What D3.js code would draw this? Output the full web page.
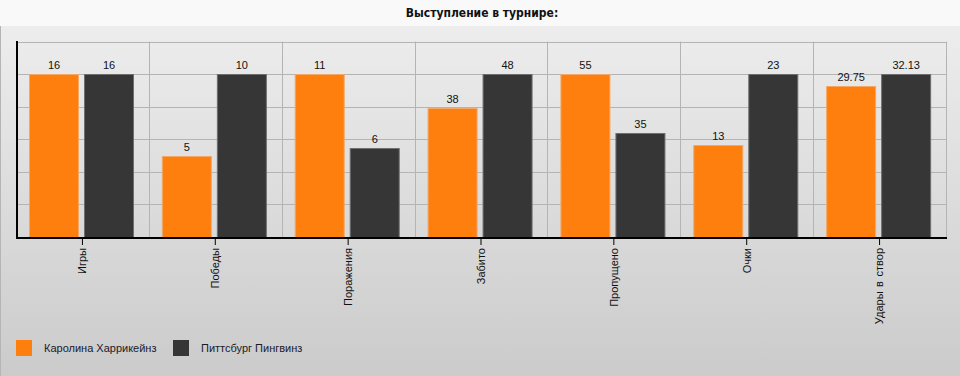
<!DOCTYPE html>
<html>
<head>
<meta charset="utf-8">
<script src="https://cdn.jsdelivr.net/npm/d3@7"></script>
<style>
  body { margin: 0; background: #fff; }
  svg { display: block; font-family: "Liberation Sans", Arial, sans-serif; }
</style>
</head>
<body>
<div id="chart"></div>
<script>
var categories = ["Игры", "Победы", "Поражения", "Забито", "Пропущено", "Очки", "Удары в створ"];
var seriesNames = ["Каролина Харрикейнз", "Питтсбург Пингвинз"];
var carolina = [16, 5, 11, 38, 55, 13, 29.75];
var pittsburgh = [16, 10, 6, 48, 35, 23, 32.13];
var seriesColors = ["#ff7f0e", "#363636"];
var seriesStrokes = ["#f2a869", "#6e6e6e"];
var title = "Выступление в турнире:";

var width = 960, height = 376;
var margin = { top: 42, left: 16, right: 14, bottom: 139 };

var svg = d3.select("#chart").append("svg")
    .attr("width", width)
    .attr("height", height);

// background gradient
var defs = svg.append("defs");
var grad = defs.append("linearGradient")
    .attr("id", "bg").attr("x1", 0).attr("y1", 0).attr("x2", 0).attr("y2", 1);
grad.append("stop").attr("offset", "0%").attr("stop-color", "#ededed");
grad.append("stop").attr("offset", "100%").attr("stop-color", "#cbcbcb");

svg.append("rect")
    .attr("x", 0).attr("y", 26)
    .attr("width", width).attr("height", height - 26)
    .attr("fill", "url(#bg)");
svg.append("rect")
    .attr("x", 0).attr("y", 0)
    .attr("width", width).attr("height", 26)
    .attr("fill", "#f9f9f9");
svg.append("line")
    .attr("x1", 0.5).attr("x2", 0.5).attr("y1", 26).attr("y2", height)
    .attr("stroke", "#b5b5b5");

svg.append("text")
    .attr("x", 482).attr("y", 17)
    .attr("text-anchor", "middle")
    .style("font-family", "'Liberation Sans Narrow', 'DejaVu Sans Condensed', Arial, sans-serif")
    .style("font-weight", "bold")
    .style("font-size", "12px")
    .attr("fill", "#111")
    .text(title);

var plotW = width - margin.left - margin.right;
var baseY = 237;

var x0 = d3.scaleBand().domain(categories).range([margin.left, margin.left + plotW]);
var x1 = d3.scaleBand().domain([0, 1]).range([13, 118]).paddingInner(1 / 11);
var y = d3.scaleLinear().domain([0, 1.2]).range([baseY, 41.6]);

var g = svg.append("g");

// horizontal grid
g.selectAll("line.hgrid")
    .data(y.ticks(6))
    .enter().append("line")
    .attr("class", "hgrid")
    .attr("x1", margin.left).attr("x2", margin.left + plotW)
    .attr("y1", function (d) { return Math.round(y(d)) + 0.5; })
    .attr("y2", function (d) { return Math.round(y(d)) + 0.5; })
    .attr("stroke", "#b4b4b4");

// vertical grid at category boundaries
g.selectAll("line.vgrid")
    .data(categories)
    .enter().append("line")
    .attr("class", "vgrid")
    .attr("x1", function (d) { return Math.round(x0(d) + x0.bandwidth()) + 0.5; })
    .attr("x2", function (d) { return Math.round(x0(d) + x0.bandwidth()) + 0.5; })
    .attr("y1", y(1.2)).attr("y2", baseY)
    .attr("stroke", "#b4b4b4");

// bars, normalized to the larger value of each pair
var rows = categories.map(function (c, i) {
    var vals = [carolina[i], pittsburgh[i]];
    var mx = d3.max(vals);
    return { cat: c, vals: vals.map(function (v, s) { return { s: s, v: v, n: v / mx }; }) };
});

var cat = g.selectAll("g.cat")
    .data(rows)
    .enter().append("g")
    .attr("class", "cat")
    .attr("transform", function (d) { return "translate(" + x0(d.cat) + ",0)"; });

cat.selectAll("rect")
    .data(function (d) { return d.vals; })
    .enter().append("rect")
    .attr("x", function (d) { return x1(d.s) + 0.5; })
    .attr("y", function (d) { return Math.round(y(d.n)) + 0.5; })
    .attr("width", x1.bandwidth() - 1)
    .attr("height", function (d) { return baseY - Math.round(y(d.n)); })
    .attr("fill", function (d) { return seriesColors[d.s]; })
    .attr("stroke", function (d) { return seriesStrokes[d.s]; });

cat.selectAll("text")
    .data(function (d) { return d.vals; })
    .enter().append("text")
    .attr("x", function (d) { return x1(d.s) + x1.bandwidth() / 2; })
    .attr("y", function (d) { return y(d.n) - 5; })
    .attr("text-anchor", "middle")
    .style("font-size", "11px")
    .attr("fill", "#111")
    .text(function (d) { return d.v; });

// axes
g.append("line")
    .attr("x1", margin.left + 1).attr("x2", margin.left + 1)
    .attr("y1", 41).attr("y2", baseY + 2)
    .attr("stroke", "#000").attr("stroke-width", 2);
g.append("line")
    .attr("x1", margin.left).attr("x2", margin.left + plotW + 1)
    .attr("y1", baseY + 1).attr("y2", baseY + 1)
    .attr("stroke", "#000").attr("stroke-width", 2);

var xAxis = g.append("g")
    .attr("transform", "translate(0," + (baseY + 2) + ")")
    .call(d3.axisBottom(x0).tickSize(6).tickSizeOuter(0).tickPadding(4));
xAxis.select(".domain").remove();
xAxis.selectAll(".tick line").attr("stroke", "#000");
xAxis.selectAll(".tick text")
    .style("font-family", "'Liberation Sans', Arial, sans-serif")
    .style("font-size", "11px")
    .style("word-spacing", "1.5px")
    .attr("fill", "#111")
    .attr("text-anchor", "end")
    .attr("transform", "rotate(-90)")
    .attr("x", -9).attr("y", 0).attr("dy", "0.35em");

// legend
var legend = svg.append("g")
    .attr("transform", "translate(16,340)");
var item = legend.selectAll("g")
    .data(seriesNames)
    .enter().append("g")
    .attr("transform", function (d, i) { return "translate(" + (i * 157) + ",0)"; });
item.append("rect")
    .attr("width", 16).attr("height", 16)
    .attr("fill", function (d, i) { return seriesColors[i]; });
item.append("text")
    .attr("x", 28).attr("y", 12)
    .style("font-size", "11px")
    .attr("fill", "#1a1a2a")
    .text(function (d) { return d; });
</script>
</body>
</html>
